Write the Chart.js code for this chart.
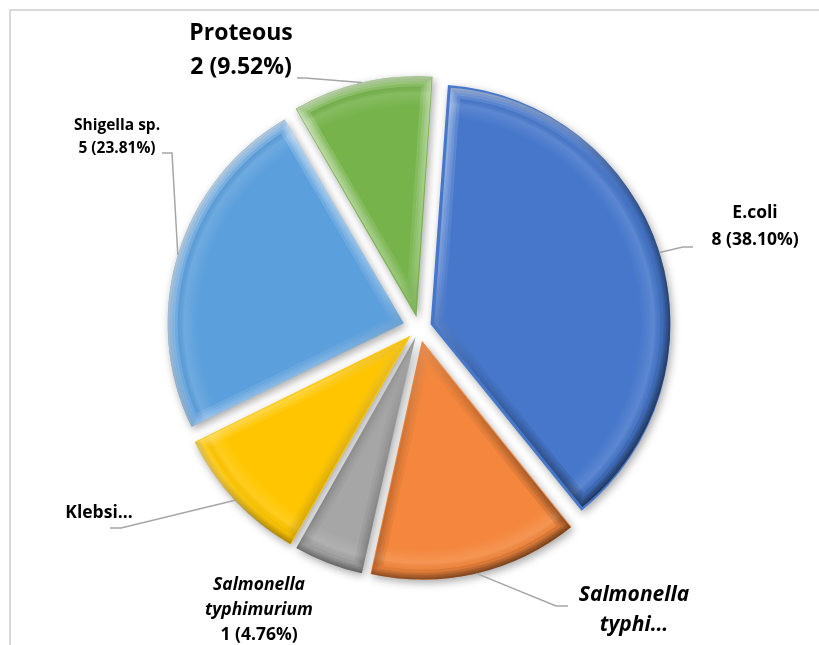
<!DOCTYPE html>
<html>
<head>
<meta charset="utf-8">
<script src="https://cdn.jsdelivr.net/npm/chart.js@4.4.1/dist/chart.umd.min.js"></script>
<style>
    html, body { margin: 0; padding: 0; background: #fff; }
    #wrap { position: relative; width: 819px; height: 645px; }
    #frame { position: absolute; left: 9px; top: 9px; right: -4px; bottom: -4px; border-left: 2px solid #d9d9d9; border-top: 2px solid #d9d9d9; }
    canvas { position: absolute; left: 0; top: 0; }
</style>
</head>
<body>
<div id="wrap">
    <div id="frame"></div>
    <canvas id="isolatesChart" width="819" height="645"></canvas>
</div>
<script>
// Isolates by organism
const species = ['E.coli', 'Salmonella typhi', 'Salmonella typhimurium', 'Klebsiella', 'Shigella sp.', 'Proteous'];
const counts = [8, 3, 1, 2, 5, 2];
const sliceColors = ['#4677cb', '#f4873d', '#a6a6a6', '#ffc600', '#5b9fdc', '#76b34b'];

// label text as shown on the chart (long names are cut short)
const labelNames = [['E.coli'], ['Salmonella', 'typhi…'], ['Salmonella', 'typhimurium'], ['Klebsi…'], ['Shigella sp.'], ['Proteous']];
const showValue = [true, false, true, false, true, true];
const italicName = [false, true, true, false, false, false];

// where each callout sits, and the bend of its leader line
const labelLayout = [
    { x: 755, y: 213, lh: 27, size: 17.5, leader: [[683, 247], [693, 247]] },
    { x: 634, y: 595, lh: 30, size: 21, leader: [[556, 606], [568, 606]] },
    { x: 259, y: 585, lh: 25, size: 17.5, leader: null },
    { x: 99, y: 513, lh: 24, size: 17.5, leader: [[121, 528], [110, 528]] },
    { x: 117, y: 126, lh: 23, size: 15.5, leader: [[172, 153], [162, 153]] },
    { x: 241, y: 33, lh: 34, size: 23, leader: [[305, 78], [297, 78]] }
];

const EXPLODE = 16;   // px each slice is pulled out from the centre
const total = counts.reduce((a, b) => a + b, 0);

// Chart.js moves an arc by offset/4 * (1 + fix), so pick the offset that gives EXPLODE px
function sliceOffset(ctx) {
    const circ = counts[ctx.dataIndex] / total * Math.PI * 2;
    const fix = 1 - Math.sin(Math.min(Math.PI, circ));
    return 4 * EXPLODE / (1 + fix);
}

function arcGeom(arc) {
    const p = arc.getProps(['x', 'y', 'startAngle', 'endAngle', 'outerRadius'], true);
    const mid = (p.startAngle + p.endAngle) / 2;
    return {
        cx: p.x + Math.cos(mid) * EXPLODE,
        cy: p.y + Math.sin(mid) * EXPLODE,
        r: p.outerRadius, start: p.startAngle, end: p.endAngle, mid: mid
    };
}

// soft drop shadow under the slices and a bevelled edge on top of them
const bevelPlugin = {
    id: 'bevel',
    beforeDatasetsDraw(chart) {
        const ctx = chart.ctx;
        ctx.save();
        ctx.shadowColor = 'rgba(0,0,0,0.35)';
        ctx.shadowBlur = 9;
        ctx.shadowOffsetX = 2;
        ctx.shadowOffsetY = 3;
    },
    afterDatasetsDraw(chart) {
        const ctx = chart.ctx;
        ctx.restore();
        chart.getDatasetMeta(0).data.forEach(function(arc) {
            const g = arcGeom(arc);
            ctx.save();
            ctx.beginPath();
            ctx.moveTo(g.cx, g.cy);
            ctx.arc(g.cx, g.cy, g.r, g.start, g.end);
            ctx.closePath();
            ctx.clip();

            const rim = ctx.createRadialGradient(g.cx, g.cy, 0, g.cx, g.cy, g.r);
            rim.addColorStop(0, 'rgba(255,255,255,0)');
            rim.addColorStop(0.87, 'rgba(255,255,255,0)');
            rim.addColorStop(0.93, 'rgba(255,255,255,0.12)');
            rim.addColorStop(0.97, 'rgba(0,0,0,0)');
            rim.addColorStop(1, 'rgba(0,0,0,0.22)');
            ctx.fillStyle = rim;
            ctx.fillRect(g.cx - g.r, g.cy - g.r, g.r * 2, g.r * 2);

            // light comes from the upper left, layered strokes fade the bevel inwards
            const lit = ctx.createLinearGradient(g.cx - g.r, g.cy - g.r, g.cx + g.r, g.cy + g.r);
            lit.addColorStop(0, 'rgba(255,255,255,0.24)');
            lit.addColorStop(0.45, 'rgba(255,255,255,0.07)');
            lit.addColorStop(0.6, 'rgba(0,0,0,0.04)');
            lit.addColorStop(1, 'rgba(0,0,0,0.16)');
            ctx.strokeStyle = lit;
            ctx.lineJoin = 'miter';
            [20, 14, 9, 4].forEach(function(w) {
                ctx.lineWidth = w;
                ctx.stroke();
            });
            ctx.restore();
        });
    }
};

// callout labels with leader lines
const labelPlugin = {
    id: 'calloutLabels',
    afterDraw(chart) {
        const ctx = chart.ctx;
        const arcs = chart.getDatasetMeta(0).data;
        ctx.save();
        labelLayout.forEach(function(lay, i) {
            if (lay.leader) {
                const g = arcGeom(arcs[i]);
                ctx.beginPath();
                ctx.moveTo(g.cx + Math.cos(g.mid) * g.r, g.cy + Math.sin(g.mid) * g.r);
                lay.leader.forEach(function(pt) { ctx.lineTo(pt[0], pt[1]); });
                ctx.strokeStyle = '#a6a6a6';
                ctx.lineWidth = 1.5;
                ctx.stroke();
            }
            const lines = labelNames[i].map(function(t) { return { text: t, italic: italicName[i] }; });
            if (showValue[i]) {
                const pct = (counts[i] / total * 100).toFixed(2);
                lines.push({ text: counts[i] + ' (' + pct + '%)', italic: false });
            }
            ctx.fillStyle = '#000';
            ctx.textAlign = 'center';
            ctx.textBaseline = 'middle';
            lines.forEach(function(line, k) {
                ctx.font = (line.italic ? 'italic ' : '') + 'bold ' + lay.size + 'px "Open Sans"';
                ctx.fillText(line.text, lay.x, lay.y + k * lay.lh);
            });
        });
        ctx.restore();
    }
};

const ctx = document.getElementById('isolatesChart').getContext('2d');
new Chart(ctx, {
    type: 'pie',
    data: {
        labels: species,
        datasets: [{
            data: counts,
            backgroundColor: sliceColors,
            borderWidth: 0,
            offset: sliceOffset
        }]
    },
    options: {
        responsive: false,
        animation: false,
        rotation: 4,
        radius: 236,
        layout: { padding: { left: 19, right: 0, top: 11, bottom: 0 } },
        plugins: {
            legend: { display: false },
            tooltip: { enabled: false }
        }
    },
    plugins: [bevelPlugin, labelPlugin]
});
</script>
</body>
</html>
